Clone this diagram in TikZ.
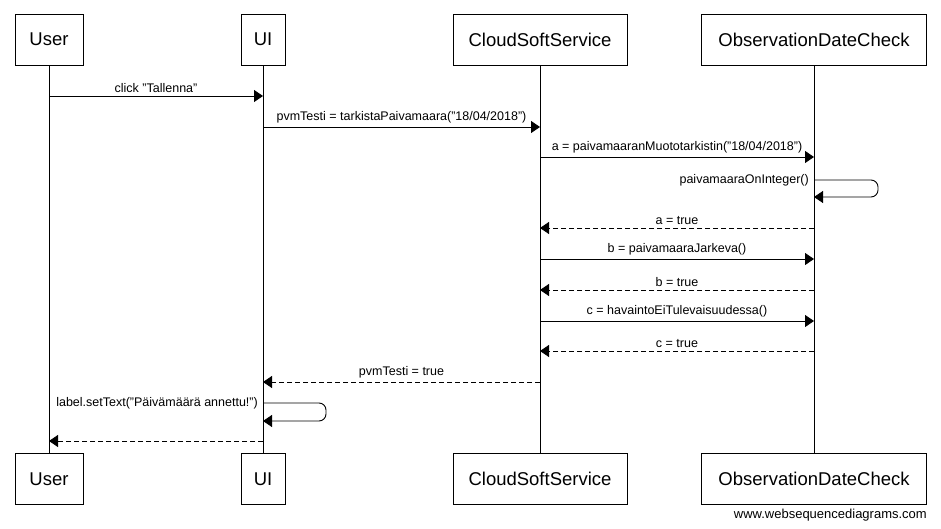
\documentclass[tikz,border=0pt]{standalone}
\usepackage{fontspec}
\setmainfont{Liberation Sans}
\usetikzlibrary{arrows.meta}

\begin{document}
\begin{tikzpicture}[x=1pt, y=-1pt,
  every node/.style={font=\fontsize{12.5}{14}\selectfont},
  actor/.style={draw, line width=0.9pt, minimum height=51, inner sep=0pt,
    font=\fontsize{18.5}{22}\selectfont},
  life/.style={line width=0.9pt},
  msg/.style={-{Triangle[length=9pt, width=12pt]}, line width=0.9pt},
  reply/.style={msg, dash pattern=on 5pt off 3pt},
  lbl/.style={midway, above=2pt, inner sep=1pt},
  selflbl/.style={anchor=east, inner sep=1pt, xshift=-4pt}
]
\useasboundingbox (0,0) rectangle (941,529);
% participants, top and bottom
\node[actor, minimum width=68] (user) at (49,39.5) {User};
\node[actor, minimum width=44] (ui) at (263,39.5) {UI};
\node[actor, minimum width=174] (css) at (540,39.5) {CloudSoftService};
\node[actor, minimum width=225] (odc) at (814,39.5) {ObservationDateCheck};
\node[actor, minimum width=68] (userb) at (49,479) {User};
\node[actor, minimum width=44] (uib) at (263,479) {UI};
\node[actor, minimum width=174] (cssb) at (540,479) {CloudSoftService};
\node[actor, minimum width=225] (odcb) at (814,479) {ObservationDateCheck};
% lifelines
\draw[life] (user) -- (userb);
\draw[life] (ui) -- (uib);
\draw[life] (css) -- (cssb);
\draw[life] (odc) -- (odcb);
% message points
\coordinate (m1s) at (49,96);   \coordinate (m1e) at (263,96);
\coordinate (m2s) at (263,127); \coordinate (m2e) at (540,127);
\coordinate (m3s) at (540,157); \coordinate (m3e) at (814,157);
\coordinate (s1a) at (814,180); \coordinate (s1c) at (878,197);
\coordinate (s1b) at (814,197);
\coordinate (m4s) at (814,228); \coordinate (m4e) at (540,228);
\coordinate (m5s) at (540,259); \coordinate (m5e) at (814,259);
\coordinate (m6s) at (814,290); \coordinate (m6e) at (540,290);
\coordinate (m7s) at (540,321); \coordinate (m7e) at (814,321);
\coordinate (m8s) at (814,351); \coordinate (m8e) at (540,351);
\coordinate (m9s) at (540,382); \coordinate (m9e) at (263,382);
\coordinate (s2a) at (263,403); \coordinate (s2c) at (326,421);
\coordinate (s2b) at (263,421);
\coordinate (m10s) at (263,441); \coordinate (m10e) at (49,441);
% messages
\draw[msg] (m1s) -- (m1e) node[lbl] {click "Tallenna"};
\draw[msg] (m2s) -- (m2e) node[lbl] {pvmTesti = tarkistaPaivamaara("18/04/2018")};
\draw[msg] (m3s) -- (m3e) node[lbl] {a = paivamaaranMuototarkistin("18/04/2018")};
\draw[msg, rounded corners=7pt] (s1a) -| (s1c) -- (s1b);
\node[selflbl] (s1l) at (s1a) {paivamaaraOnInteger()};
\draw[reply] (m4s) -- (m4e) node[lbl] {a = true};
\draw[msg] (m5s) -- (m5e) node[lbl] {b = paivamaaraJarkeva()};
\draw[reply] (m6s) -- (m6e) node[lbl] {b = true};
\draw[msg] (m7s) -- (m7e) node[lbl] {c = havaintoEiTulevaisuudessa()};
\draw[reply] (m8s) -- (m8e) node[lbl] {c = true};
\draw[reply] (m9s) -- (m9e) node[lbl] {pvmTesti = true};
\draw[msg, rounded corners=7pt] (s2a) -| (s2c) -- (s2b);
\node[selflbl] (s2l) at (s2a) {label.setText("Päivämäärä annettu!")};
\draw[reply] (m10s) -- (m10e);
\node[anchor=east, inner sep=0pt, font=\fontsize{13}{15}\selectfont] (wsd) at (927,515) {www.websequencediagrams.com};
\end{tikzpicture}
\end{document}
